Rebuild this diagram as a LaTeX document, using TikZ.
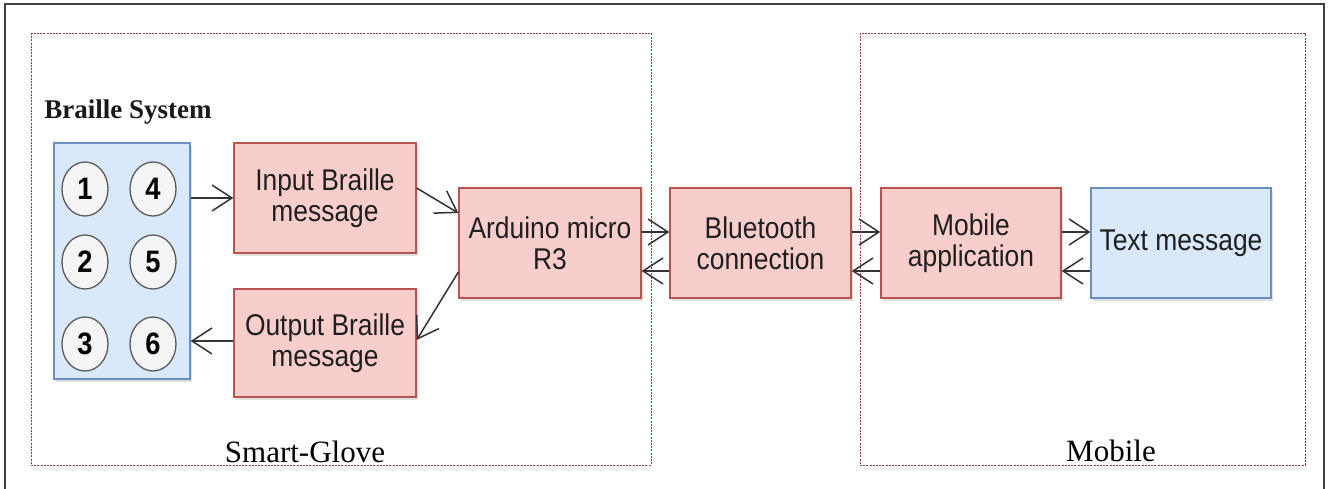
\documentclass[tikz,border=0pt]{standalone}
\usepackage{fontspec}
\setmainfont{Liberation Serif}
\newfontfamily\boxfont[FakeStretch=0.88]{Liberation Sans}
\newfontfamily\ttl{Liberation Serif}
\usetikzlibrary{arrows.meta,shadows,shapes.geometric}
\definecolor{pinkfill}{HTML}{F8CECC}
\definecolor{pinkdraw}{HTML}{B85450}
\definecolor{bluefill}{HTML}{DAE8FC}
\definecolor{bluedraw}{HTML}{6C8EBF}
\definecolor{grpline}{HTML}{8A3E3E}
\definecolor{arrowcol}{HTML}{333333}
\definecolor{dotfill}{HTML}{F5F5F5}
\definecolor{dotdraw}{HTML}{5A5A5A}
\tikzset{
  procbox/.style={draw=pinkdraw, fill=pinkfill, line width=1.3pt, inner sep=0pt,
    align=center, font=\boxfont\fontsize{30}{31}\selectfont, text=black!88,
    drop shadow={shadow xshift=2pt, shadow yshift=-2.5pt, opacity=0.25}},
  bluebox/.style={draw=bluedraw, fill=bluefill, line width=1.3pt, inner sep=0pt,
    align=center, font=\boxfont\fontsize{30}{31}\selectfont, text=black!88,
    drop shadow={shadow xshift=2pt, shadow yshift=-2.5pt, opacity=0.25}},
  dotnode/.style={ellipse, draw=dotdraw, fill=dotfill, line width=1.3pt,
    minimum width=46pt, minimum height=54pt, inner sep=0pt,
    font=\boxfont\bfseries\fontsize{31}{32}\selectfont},
  link/.style={draw=arrowcol, line width=1.5pt,
    -{Straight Barb[length=20pt,width=26pt,line width=1.5pt]}},
  grp/.style={draw=grpline, line width=1pt, dash pattern=on 2pt off 1.2pt},
}
\begin{document}
\begin{tikzpicture}[x=1pt,y=-1pt]
\useasboundingbox (0,0) rectangle (1329,488);
\fill[white] (0,0) rectangle (1329,488);
\begin{scope}
\clip (0,0) rectangle (1329,488);
\draw[line width=1.6pt, draw=black!75] (5,500) -- (5,4) -- (1324,4) -- (1324,500);
\end{scope}
% groups
\draw[grp] (31,33) rectangle (651,465);
\draw[grp] (860,33) rectangle (1305,465);
\node[font=\ttl\fontsize{31}{34}\selectfont, anchor=base, inner sep=0pt] (sg) at (305,462) {Smart-Glove};
\node[font=\ttl\fontsize{31}{34}\selectfont, anchor=base, inner sep=0pt] (mob) at (1111,461) {Mobile};
\node[font=\ttl\bfseries\fontsize{27}{30}\selectfont, anchor=base, inner sep=0pt, text=black!90] (bs) at (128,118) {Braille System};
% braille box
\node[bluebox, minimum width=136pt, minimum height=236pt] (br) at (122,261) {};
\node[dotnode] (d1) at (85,189) {1};
\node[dotnode] (d4) at (153,189) {4};
\node[dotnode] (d2) at (85,262) {2};
\node[dotnode] (d5) at (153,262) {5};
\node[dotnode] (d3) at (85,344) {3};
\node[dotnode] (d6) at (153,344) {6};
% process boxes
\node[procbox, minimum width=182pt, minimum height=110pt] (in) at (325,198) {Input Braille\\message};
\node[procbox, minimum width=182pt, minimum height=108pt] (out) at (325,343) {Output Braille\\message};
\node[procbox, minimum width=182pt, minimum height=110pt] (ard) at (550,243) {Arduino micro\\R3};
\node[procbox, minimum width=181pt, minimum height=110pt] (bt) at (760.5,243) {Bluetooth\\connection};
\node[procbox, minimum width=180pt, minimum height=110pt] (app) at (971,243) {Mobile\\application};
\node[bluebox, minimum width=180pt, minimum height=110pt] (txt) at (1181,243) {Text message};
% connectors
\draw[link] (br.east |- 0,198) -- (in.west |- 0,198);
\draw[link] (out.west |- 0,341) -- (br.east |- 0,341);
\draw[link] (in.east |- 0,188) -- (ard.west |- 0,213);
\draw[link] (ard.west |- 0,272) -- (out.east |- 0,340);
\draw[link] (ard.east |- 0,232) -- (bt.west |- 0,232);
\draw[link] (bt.west |- 0,271) -- (ard.east |- 0,271);
\draw[link] (bt.east |- 0,232) -- (app.west |- 0,232);
\draw[link] (app.west |- 0,271) -- (bt.east |- 0,271);
\draw[link] (app.east |- 0,232) -- (txt.west |- 0,232);
\draw[link] (txt.west |- 0,271) -- (app.east |- 0,271);
\end{tikzpicture}
\end{document}
